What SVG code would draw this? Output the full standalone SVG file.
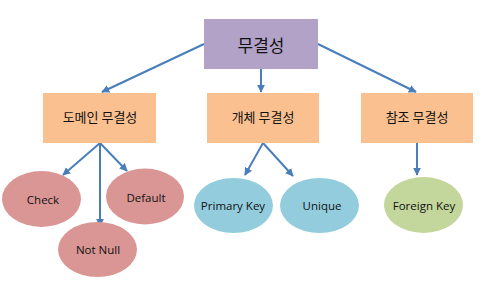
<svg xmlns="http://www.w3.org/2000/svg" width="496" height="284" viewBox="0 0 496 284">
<defs>
<marker id="ah" viewBox="0 0 10 10" refX="9" refY="5" markerWidth="4" markerHeight="4" orient="auto" markerUnits="strokeWidth">
<path d="M0,0 L10,5 L0,10 z" fill="#4A7EBB"/>
</marker>
<style>
.box{fill:#FAC090;}
.top{fill:#B3A2C7;}
.red{fill:#D99694;}
.blue{fill:#93CDDD;}
.green{fill:#C3D69B;}
.ko{font-family:"Noto Sans CJK KR","Noto Sans",sans-serif;fill:#111;text-anchor:middle;dominant-baseline:central;}
.en{font-family:"Open Sans","Noto Sans",sans-serif;font-size:11.5px;fill:#111;text-anchor:middle;dominant-baseline:central;}
.c{stroke:#4A7EBB;stroke-width:2;fill:none;marker-end:url(#ah);}
</style>
</defs>
<rect width="496" height="284" fill="#fff"/>
<g id="connectors">
<line class="c" x1="204" y1="44" x2="102" y2="92"/>
<line class="c" x1="261" y1="69" x2="261" y2="92"/>
<line class="c" x1="318" y1="44" x2="416" y2="92"/>
<line class="c" x1="100" y1="143" x2="63" y2="175"/>
<line class="c" x1="100" y1="143" x2="100" y2="226"/>
<line class="c" x1="100" y1="143" x2="127" y2="171"/>
<line class="c" x1="263" y1="143" x2="245" y2="175"/>
<line class="c" x1="263" y1="143" x2="293" y2="176"/>
<line class="c" x1="417" y1="143" x2="417" y2="175"/>
</g>
<g id="n-root"><rect class="top" x="204" y="19" width="114" height="50"/><text class="ko" x="261" y="44" font-size="17">무결성</text></g>
<g id="n-domain"><rect class="box" x="43" y="93" width="113" height="50"/><text class="ko" x="100" y="116" font-size="13">도메인 무결성</text></g>
<g id="n-entity"><rect class="box" x="207" y="93" width="112" height="50"/><text class="ko" x="263" y="116" font-size="13">개체 무결성</text></g>
<g id="n-ref"><rect class="box" x="361" y="93" width="112" height="50"/><text class="ko" x="417" y="116" font-size="13">참조 무결성</text></g>
<g id="n-check"><ellipse class="red" cx="41.5" cy="199" rx="39.5" ry="28"/><text class="en" x="43" y="199">Check</text></g>
<g id="n-default"><ellipse class="red" cx="145" cy="196.5" rx="39" ry="28"/><text class="en" x="146" y="197">Default</text></g>
<g id="n-notnull"><ellipse class="red" cx="97.5" cy="249.5" rx="39.5" ry="27.5"/><text class="en" x="98" y="249">Not Null</text></g>
<g id="n-pk"><ellipse class="blue" cx="233.5" cy="205.5" rx="39.5" ry="27.5"/><text class="en" x="233" y="205">Primary Key</text></g>
<g id="n-unique"><ellipse class="blue" cx="319.5" cy="205.5" rx="39.5" ry="27.5"/><text class="en" x="322" y="205">Unique</text></g>
<g id="n-fk"><ellipse class="green" cx="423.5" cy="205" rx="39.5" ry="28"/><text class="en" x="424" y="205">Foreign Key</text></g>
</svg>
